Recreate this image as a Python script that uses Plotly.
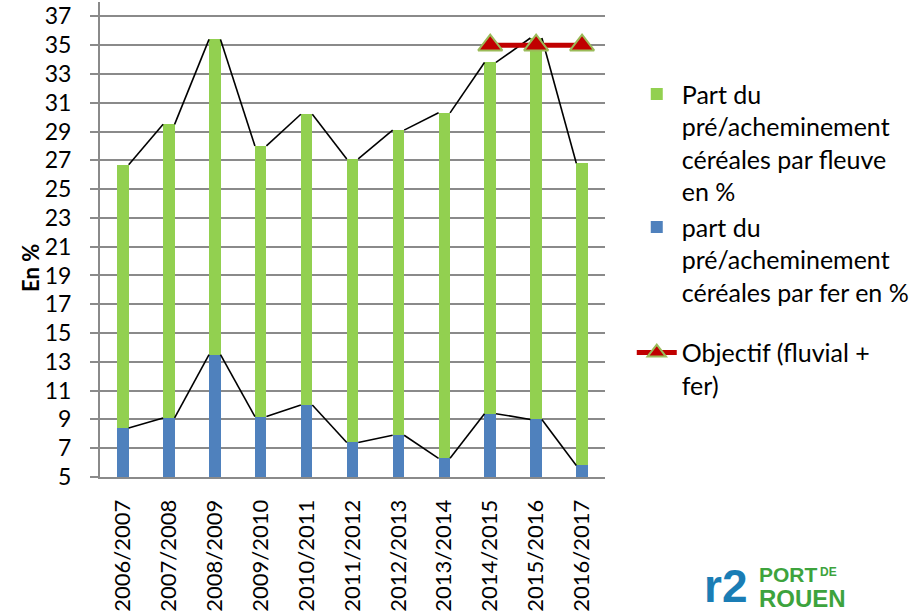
import plotly.graph_objects as go

seasons = ["2006/2007", "2007/2008", "2008/2009", "2009/2010", "2010/2011", "2011/2012",
           "2012/2013", "2013/2014", "2014/2015", "2015/2016", "2016/2017"]
fer = [8.4, 9.1, 13.5, 9.2, 10.0, 7.4, 7.9, 6.3, 9.4, 9.0, 5.8]
fleuve = [18.3, 20.4, 21.9, 18.8, 20.2, 19.7, 21.2, 24.0, 24.4, 26.5, 21.0]
objectif = [None, None, None, None, None, None, None, None, 35, 35, 35]
y_ticks = list(range(5, 38, 2))

FONT = "Lato"
GREEN = "#92D050"
BLUE = "#4F81BD"
RED = "#C00000"
GRID = "#8A8A8A"
BAR_W = 0.25

idx = list(range(len(seasons)))
totals = [a + b for a, b in zip(fer, fleuve)]

fig = go.Figure()
fig.add_trace(go.Bar(x=idx, y=fer, width=BAR_W, marker=dict(color=BLUE, line_width=0),
                     name="part du<br>pré/acheminement<br>céréales par fer en %",
                     legendgroup="bars", legendrank=2))
fig.add_trace(go.Bar(x=idx, y=fleuve, width=BAR_W, marker=dict(color=GREEN, line_width=0),
                     name="Part du<br>pré/acheminement<br>céréales par fleuve<br>en %",
                     legendgroup="bars", legendrank=1))


def series_line(vals):
    xs, ys = [], []
    for i in range(len(vals) - 1):
        xs += [i + BAR_W / 2, i + 1 - BAR_W / 2, None]
        ys += [vals[i], vals[i + 1], None]
    return xs, ys


for vals in (fer, totals):
    sx, sy = series_line(vals)
    fig.add_trace(go.Scatter(x=sx, y=sy, mode="lines", line=dict(color="black", width=1.6),
                             showlegend=False, hoverinfo="skip"))

fig.add_trace(go.Scatter(x=idx, y=objectif, mode="lines+markers",
                         line=dict(color=RED, width=5),
                         marker=dict(symbol="triangle-up", size=21, color=RED,
                                     line=dict(color="#9BBB59", width=2)),
                         name="Objectif (fluvial +<br>fer)", legendgroup="obj", legendrank=3))

LOGO_FONT = "Liberation Sans"
LOGO_GREEN = "#3DA33D"
fig.update_layout(
    barmode="stack",
    width=919, height=614,
    margin=dict(l=100, r=314, t=2, b=137, autoexpand=False),
    plot_bgcolor="white", paper_bgcolor="white",
    font=dict(family=FONT, size=24, color="black"),
    showlegend=True,
    legend=dict(x=1.053, y=0.854, xanchor="left", yanchor="top",
                traceorder="grouped", tracegroupgap=25, valign="top",
                font=dict(family=FONT, size=25, color="black"),
                itemwidth=40, bgcolor="rgba(0,0,0,0)"),
    xaxis=dict(range=[-0.5, 10.5], tickmode="array", tickvals=idx, ticktext=seasons,
               tickangle=-90, showgrid=False, showline=True, linecolor=GRID, linewidth=2,
               ticks="", ticklabelstandoff=12, tickfont=dict(family=FONT, size=22),
               zeroline=False, automargin=False),
    yaxis=dict(range=[5, 38], tickmode="array", tickvals=y_ticks, showgrid=True,
               gridcolor=GRID, gridwidth=1.6, showline=True, linecolor=GRID, linewidth=2,
               ticks="outside", ticklen=8, tickcolor=GRID, tickwidth=1.6,
               ticklabelstandoff=14, tickfont=dict(family=FONT, size=23), zeroline=False,
               automargin=False),
    annotations=[
        dict(text="<b>En %</b>", textangle=-90, xref="paper", yref="paper",
             x=-0.1386, y=0.44, xanchor="center", yanchor="middle", showarrow=False,
             font=dict(family=FONT, size=22)),
        dict(text="<b>r2</b>", xref="paper", yref="paper", x=1.2396, y=-0.229,
             xanchor="center", yanchor="middle", showarrow=False,
             font=dict(family=LOGO_FONT, size=46, color="#1A7DB5")),
        dict(text="<b>PORT</b>", xref="paper", yref="paper", x=1.301, y=-0.206,
             xanchor="left", yanchor="middle", showarrow=False,
             font=dict(family=LOGO_FONT, size=21, color=LOGO_GREEN)),
        dict(text="<b>DE</b>", xref="paper", yref="paper", x=1.422, y=-0.2,
             xanchor="left", yanchor="middle", showarrow=False,
             font=dict(family=LOGO_FONT, size=12, color=LOGO_GREEN)),
        dict(text="<b>ROUEN</b>", xref="paper", yref="paper", x=1.301, y=-0.255,
             xanchor="left", yanchor="middle", showarrow=False,
             font=dict(family=LOGO_FONT, size=24, color=LOGO_GREEN)),
    ],
)

fig.write_html("out.html", config={"displayModeBar": False},
               post_script="document.body.style.margin='0px';")
